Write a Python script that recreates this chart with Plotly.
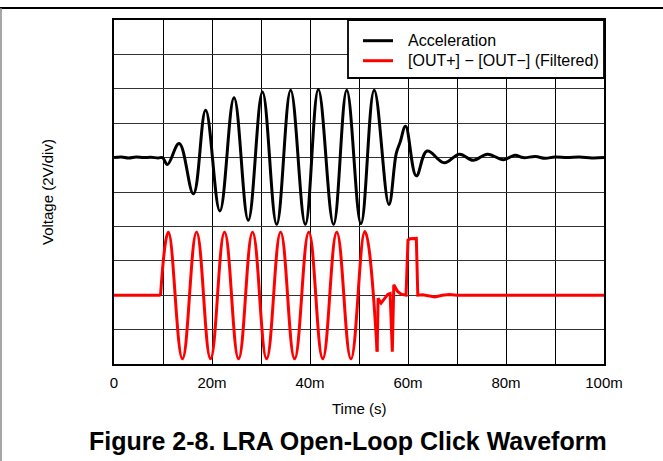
import plotly.graph_objects as go

# ---------------- data (time in ms, amplitude in divisions) ----------------
acc_t = [0, 1.5, 3, 4.5, 6, 7.5, 9, 9.9, 10.9, 13.3, 16.2, 18.7, 21.6, 24.5,
         27.4, 30.3, 33.2, 36.05, 39.05, 41.7, 44.8, 47.5, 50.4, 53.1, 56.1,
         57.6, 58.4, 59.5, 61.7, 63.9, 67.4, 70.5, 73.3, 76.2, 79.5, 81.8,
         83.5, 86, 88, 90, 92.5, 95, 97.5, 100]
acc_v = [0, 0.02, -0.01, 0.02, 0, 0.01, -0.01, 0, -0.2, 0.41, -1.05, 1.38, -1.55, 1.74,
         -1.82, 1.91, -1.94, 1.96, -1.94, 1.98, -1.94, 1.96, -1.92, 1.96, -1.36,
         0.12, 0.45, 0.91, -0.53, 0.19, -0.15, 0.1, -0.08, 0.1, -0.06, 0.07,
         0, 0.03, -0.02, 0.02, 0, 0.02, -0.01, 0]

out_lead_t = [0, 9.5]
out_lead_v = [0, 0]

out_sine_t = [9.5, 11.1, 13.97, 16.85, 19.7, 22.56, 25.42, 28.28, 31.14,
              34.0, 36.86, 39.75, 42.6, 45.46, 48.35, 51.2, 53.7]
out_sine_v = [0, 1.83, -1.85, 1.83, -1.85, 1.83, -1.85, 1.83, -1.85,
              1.83, -1.85, 1.83, -1.85, 1.83, -1.85, 1.85, -1.64]

out_tail_t = [53.7, 53.9, 54.5, 55.2, 55.9, 56.35, 56.8, 57.1, 57.5, 57.9,
              58.6, 59.6, 60.0, 60.4, 61.7, 62.0, 63.0, 65.5, 67.0, 68.5,
              70.0, 100.0]
out_tail_v = [-1.64, -0.09, -0.23, -0.1, 0.03, 0.05, -1.64, 0.3, 0.18, 0.11,
              0.03, 0, 1.6, 1.64, 1.65, 0, 0.01, -0.05, 0, 0.02,
              0, 0]

series_names = ["Acceleration", "[OUT+] \u2212 [OUT\u2212] (Filtered)"]
series_colors = ["black", "#ff0000"]

x_tick_vals_ms = [0, 10, 20, 30, 40, 50, 60, 70, 80, 90, 100]
x_tick_text = ["0", "", "20m", "", "40m", "", "60m", "", "80m", "", "100m"]
y_grid_vals = [0, 2, 4, 6, 8, 10, 12, 14, 16, 18, 20]

# ---------------- styling / placement ----------------
VOLTS_PER_DIV = 2
ACC_BASE = 12
OUT_BASE = 4
W, H = 663, 461
ML, MR, MT, MB = 114, 59, 20, 97
PW, PH = W - ML - MR, H - MT - MB
FONT = "Liberation Sans, Arial, sans-serif"
LW = 3


def px_x(p):
    return (p - ML) / PW


def px_y(p):
    return (H - MB - p) / PH


def sec(ts):
    return [t / 1000 for t in ts]


def volts(vs, base):
    return [base + v * VOLTS_PER_DIV for v in vs]


fig = go.Figure()
fig.add_trace(go.Scatter(x=sec(acc_t), y=volts(acc_v, ACC_BASE), mode="lines",
                         name=series_names[0], showlegend=False,
                         line=dict(color=series_colors[0], width=LW, shape="spline", smoothing=1.1)))
fig.add_trace(go.Scatter(x=sec(out_lead_t), y=volts(out_lead_v, OUT_BASE), mode="lines",
                         name=series_names[1], showlegend=False,
                         line=dict(color=series_colors[1], width=LW)))
fig.add_trace(go.Scatter(x=sec(out_sine_t), y=volts(out_sine_v, OUT_BASE), mode="lines",
                         name=series_names[1], showlegend=False,
                         line=dict(color=series_colors[1], width=LW, shape="spline", smoothing=1.2)))
fig.add_trace(go.Scatter(x=sec(out_tail_t), y=volts(out_tail_v, OUT_BASE), mode="lines",
                         name=series_names[1], showlegend=False,
                         line=dict(color=series_colors[1], width=LW)))

fig.update_layout(
    width=W, height=H,
    margin=dict(l=ML, r=MR, t=MT, b=MB),
    paper_bgcolor="white", plot_bgcolor="white",
    font=dict(family=FONT, size=15, color="black"),
    showlegend=False,
)
fig.update_xaxes(range=[0, 0.1], tickvals=sec(x_tick_vals_ms), ticktext=x_tick_text,
                 showgrid=True, gridcolor="black", gridwidth=1,
                 showline=True, linecolor="black", linewidth=2, mirror=True,
                 zeroline=False, ticks="outside", ticklen=4, tickcolor="rgba(0,0,0,0)",
                 tickfont=dict(family=FONT, size=15, color="black"))
fig.update_yaxes(range=[0, 20], tickvals=y_grid_vals, showticklabels=False,
                 showgrid=True, gridcolor="#333333", gridwidth=1,
                 showline=True, linecolor="black", linewidth=2, mirror=True,
                 zeroline=False, ticks="")

fig.add_annotation(text="Time (s)", xref="paper", yref="paper",
                   x=0.5, y=px_y(408), xanchor="center", yanchor="middle",
                   showarrow=False, font=dict(family=FONT, size=15, color="black"))
fig.add_annotation(text="Voltage (2V/div)", xref="paper", yref="paper",
                   x=px_x(47), y=0.5, xanchor="center", yanchor="middle", textangle=-90,
                   showarrow=False, font=dict(family=FONT, size=15, color="black"))
fig.add_annotation(text="<b>Figure 2-8. LRA Open-Loop Click Waveform</b>",
                   xref="paper", yref="paper",
                   x=px_x(348), y=px_y(441), xanchor="center", yanchor="middle",
                   showarrow=False, font=dict(family=FONT, size=25, color="black"))

# legend box (drawn manually for exact placement)
LEG_L, LEG_R, LEG_T, LEG_B = 348, 604, 20, 78
fig.add_shape(type="rect", xref="paper", yref="paper",
              x0=px_x(LEG_L), x1=px_x(LEG_R), y0=px_y(LEG_B), y1=px_y(LEG_T),
              fillcolor="white", line=dict(color="black", width=1.8), layer="above")
for i, (nm, col) in enumerate(zip(series_names, series_colors)):
    ypix = 40.7 + 20 * i
    fig.add_shape(type="line", xref="paper", yref="paper",
                  x0=px_x(363), x1=px_x(393), y0=px_y(ypix), y1=px_y(ypix),
                  line=dict(color=col, width=3), layer="above")
    fig.add_annotation(text=nm, xref="paper", yref="paper",
                       x=px_x(406), y=px_y(ypix), xanchor="left", yanchor="middle",
                       showarrow=False, font=dict(family=FONT, size=16, color="black"))

# page border lines
fig.add_shape(type="line", xref="paper", yref="paper",
              x0=px_x(0), x1=px_x(W), y0=px_y(8), y1=px_y(8),
              line=dict(color="black", width=2))
fig.add_shape(type="line", xref="paper", yref="paper",
              x0=px_x(1), x1=px_x(1), y0=px_y(8), y1=px_y(H),
              line=dict(color="#888888", width=1.5))

fig.write_html("out.html", config={"displayModeBar": False},
               post_script="document.body.style.margin='0';document.body.style.overflow='hidden';")
